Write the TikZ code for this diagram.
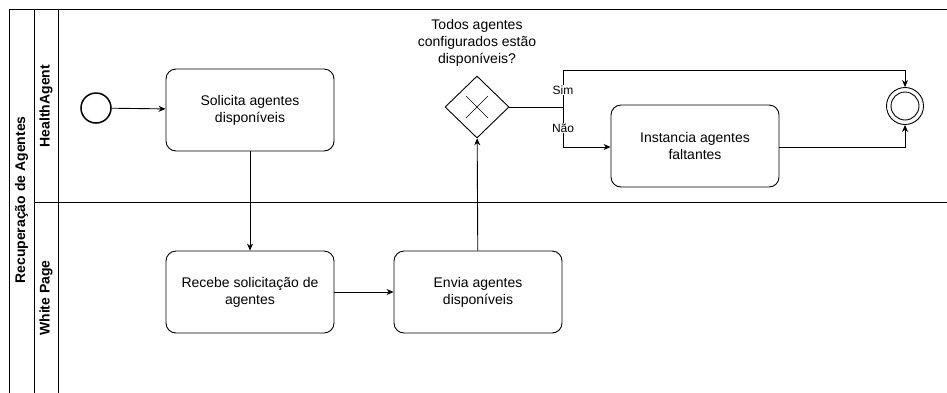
\documentclass[tikz,border=0pt]{standalone}
\usepackage{fontspec}
\setmainfont{Liberation Sans}
\usetikzlibrary{arrows.meta,shapes.geometric,calc}
\begin{document}
\begin{tikzpicture}[x=1pt,y=-1pt,
  font=\fontsize{14}{17}\selectfont,
  line width=0.9pt,
  task/.style={draw, rounded corners=10pt, minimum width=168pt, minimum height=82pt,
    align=center, inner sep=0pt},
  flow/.style={draw, -{Stealth[length=7pt,width=6pt]}},
  lanetitle/.style={rotate=90, font=\fontsize{14}{17}\selectfont\bfseries},
  edgelabel/.style={fill=white, font=\fontsize{12}{14}\selectfont, inner sep=1pt}]
\useasboundingbox (0,0) rectangle (947,392);
\clip (0,0) rectangle (947,392);

% pool and lanes
\draw (9,9) rectangle (960,400);
\draw (34,9) -- (34,400);
\draw (58,9) -- (58,400);
\draw (34,202) -- (960,202);
\node[lanetitle] (pool) at (21.5,200) {Recuperação de Agentes};
\node[lanetitle] (laneA) at (46,106) {HealthAgent};
\node[lanetitle] (laneB) at (46,298) {White Page};

% events
\node[draw, circle, line width=1.5pt, minimum size=30pt, inner sep=0pt] (start) at (96,108) {};
\node[draw, circle, minimum size=37pt, inner sep=0pt] (finish) at (905,106) {};
\node[draw, circle, minimum size=28pt, inner sep=0pt] (finishin) at (905,106) {};

% tasks
\node[task] (req) at (250,110) {Solicita agentes\\disponíveis};
\node[task] (recv) at (250,292) {Recebe solicitação de\\agentes};
\node[task] (send) at (478,292) {Envia agentes\\disponíveis};
\node[task] (inst) at (695,146) {Instancia agentes\\faltantes};

% exclusive gateway
\node[draw, diamond, minimum width=64pt, minimum height=62pt, inner sep=0pt] (gw) at (477,107) {};
\draw[line width=0.6pt] ($(gw.center)+(-11,-11)$) -- ($(gw.center)+(11,11)$);
\draw[line width=0.6pt] ($(gw.center)+(-11,11)$) -- ($(gw.center)+(11,-11)$);
\node[align=center, anchor=south, inner sep=0pt] (gwlabel) at (477,67)
  {Todos agentes\\configurados estão\\disponíveis?};

% sequence flows
\coordinate (split) at (563,107);
\draw[flow] (start) -- (req);
\draw[flow] (req) -- (recv);
\draw[flow] (recv) -- (send);
\draw[flow] (send) -- (gw);
\draw (gw.east) -- (split);
\draw[flow] (split) -- (563,70) -| (finish.north);
\draw[flow] (split) -- (563,147) -- (inst.west |- 0,147);
\draw[flow] (inst.east |- 0,147) -| (finish.south);
\node[edgelabel] (sim) at (563,90) {Sim};
\node[edgelabel] (nao) at (563,128) {Não};
\end{tikzpicture}
\end{document}
